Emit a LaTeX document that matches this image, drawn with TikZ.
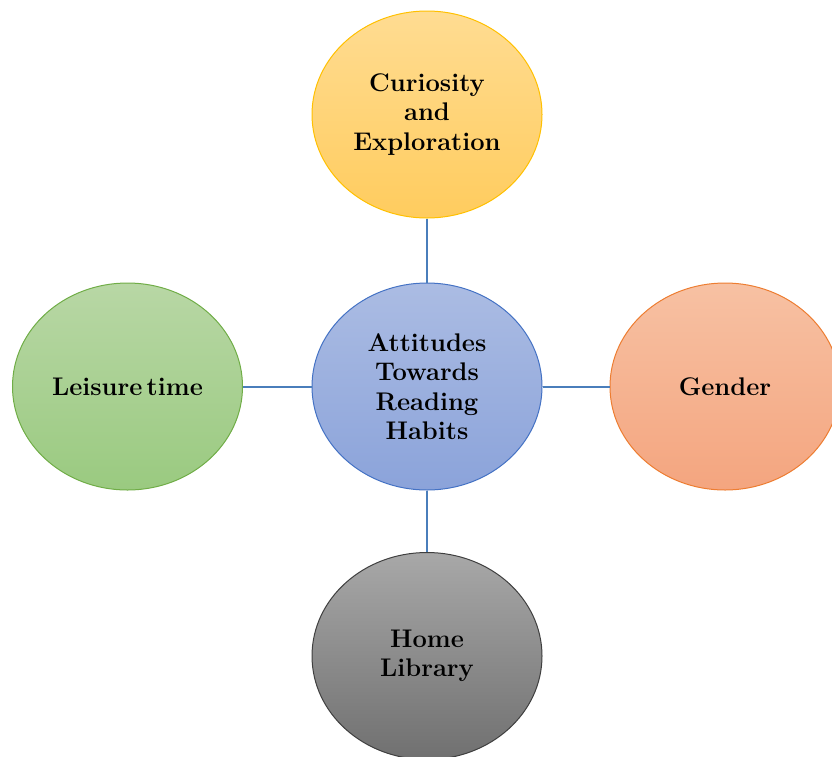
\documentclass[tikz,border=0pt]{standalone}
\usetikzlibrary{shapes.geometric}
\definecolor{ytop}{HTML}{FFDC92}
\definecolor{ybot}{HTML}{FFCC5E}
\definecolor{yline}{HTML}{FFC000}
\definecolor{btop}{HTML}{ABBCE3}
\definecolor{bbot}{HTML}{8BA3DA}
\definecolor{bline}{HTML}{4472C4}
\definecolor{otop}{HTML}{F7C1A3}
\definecolor{obot}{HTML}{F4A57F}
\definecolor{oline}{HTML}{ED7D31}
\definecolor{gtop}{HTML}{B8D7A5}
\definecolor{gbot}{HTML}{9ACA80}
\definecolor{gline}{HTML}{70AD47}
\definecolor{ktop}{HTML}{A8A8A8}
\definecolor{kbot}{HTML}{707070}
\definecolor{kline}{HTML}{3F3F3F}
\definecolor{conn}{HTML}{4A7EBB}
\begin{document}
\begin{tikzpicture}[x=1pt,y=-1pt,
  bubble/.style={ellipse, minimum width=230pt, minimum height=207pt, inner sep=0pt,
    line width=1pt, align=center, font=\fontsize{25.5}{29.5}\selectfont\bfseries, text=black},
  link/.style={draw=conn, line width=2pt}]
\useasboundingbox (0,0) rectangle (832,756);
\clip (0,0) rectangle (832,756);
\node[bubble, draw=yline, top color=ytop, bottom color=ybot] (top) at (427,114.5) {Curiosity\\and\\Exploration};
\node[bubble, draw=bline, top color=btop, bottom color=bbot] (ctr) at (427,386.5) {Attitudes\\Towards\\Reading\\Habits};
\node[bubble, draw=gline, top color=gtop, bottom color=gbot] (lft) at (127.5,386.5) {Leisure\,time};
\node[bubble, draw=oline, top color=otop, bottom color=obot] (rgt) at (725,386.5) {Gender};
\node[bubble, draw=kline, top color=ktop, bottom color=kbot] (bot) at (427,656) {Home\\Library};
\draw[link] (top) -- (ctr);
\draw[link] (lft) -- (ctr);
\draw[link] (ctr) -- (rgt);
\draw[link] (ctr) -- (bot);
\end{tikzpicture}
\end{document}
